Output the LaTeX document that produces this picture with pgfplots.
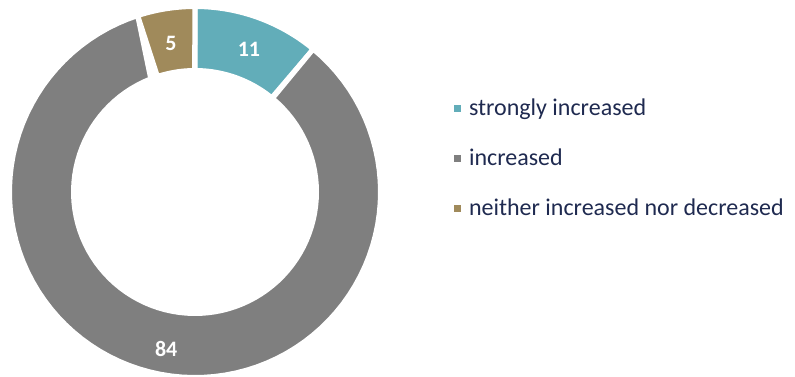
\documentclass[border=0pt]{standalone}
\usepackage{pgfplots}
\usepackage{pgfplotstable}
\pgfplotsset{compat=1.18}
\usepackage{fontspec}
\setmainfont{Carlito}
\definecolor{cteal}{HTML}{62ADB9}
\definecolor{cgray}{HTML}{7F7F7F}
\definecolor{cgold}{HTML}{A08A5B}
\definecolor{ctext}{HTML}{1F2A50}
\pgfplotstableread{
label value
strongly 11
increased 84
neither 5
}\donutdata
\pgfplotstablegetelem{0}{value}\of\donutdata \let\va\pgfplotsretval
\pgfplotstablegetelem{1}{value}\of\donutdata \let\vb\pgfplotsretval
\pgfplotstablegetelem{2}{value}\of\donutdata \let\vc\pgfplotsretval
\pgfmathsetmacro{\aA}{90}
\pgfmathsetmacro{\aB}{90-\va*3.6}
\pgfmathsetmacro{\aC}{\aB-\vb*3.6}
\pgfmathsetmacro{\aD}{\aC-\vc*3.6}
\def\cx{195}\def\cy{184}\def\Ro{185.5}\def\Ri{121.5}
\newcommand{\slice}[3]{%
  \addplot[fill=#1, draw=white, line width=5pt, domain=0:2, samples=181, variable=\t]
   ({\cx + (\t<1 ? \Ro : \Ri)*cos(\t<1 ? #2+(#3-#2)*\t : #3+(#2-#3)*(\t-1))},
    {\cy + (\t<1 ? \Ro : \Ri)*sin(\t<1 ? #2+(#3-#2)*\t : #3+(#2-#3)*(\t-1))}) -- cycle;
}
\begin{document}
\begin{tikzpicture}
\begin{axis}[
  width=795pt, height=376pt, scale only axis,
  xmin=0, xmax=795, ymin=0, ymax=376,
  hide axis, clip=false,
  legend style={draw=none, fill=none, at={(axis cs:454,277)}, anchor=north west,
    font=\fontsize{24}{26}\selectfont, text=ctext, row sep=32pt,
    inner sep=0pt, outer sep=0pt, nodes={inner sep=0pt}},
  legend cell align=left,
  legend image code/.code={\fill[#1, draw=none] (0pt,-3.5pt) rectangle (7pt,3.5pt);
    \path[draw=none, fill=none] (0pt,0pt) -- (15pt,0pt);},
]
\slice{cteal}{\aA}{\aB}
\addlegendentry{strongly increased}
\slice{cgray}{\aB}{\aC}
\addlegendentry{increased}
\slice{cgold}{\aC}{\aD}
\addlegendentry{neither increased nor decreased}
\pgfmathsetmacro{\rm}{(\Ro+\Ri)/2}
\pgfmathsetmacro{\mA}{(\aA+\aB)/2}
\pgfmathsetmacro{\mB}{(\aB+\aC)/2}
\pgfmathsetmacro{\mC}{(\aC+\aD)/2}
\node[text=white, font=\fontsize{22}{22}\selectfont\bfseries] at (axis cs:{\cx+\rm*cos(\mA)+2},{\cy+\rm*sin(\mA)-2}) {\va};
\node[text=white, font=\fontsize{22}{22}\selectfont\bfseries] at (axis cs:{\cx+\rm*cos(\mB)},{\cy+\rm*sin(\mB)-6}) {\vb};
\node[text=white, font=\fontsize{22}{22}\selectfont\bfseries] at (axis cs:{\cx+\rm*cos(\mC)},{\cy+\rm*sin(\mC)-3}) {\vc};
\end{axis}
\pgfresetboundingbox
\path[use as bounding box] (0,0) rectangle (795pt,376pt);
\end{tikzpicture}
\end{document}
